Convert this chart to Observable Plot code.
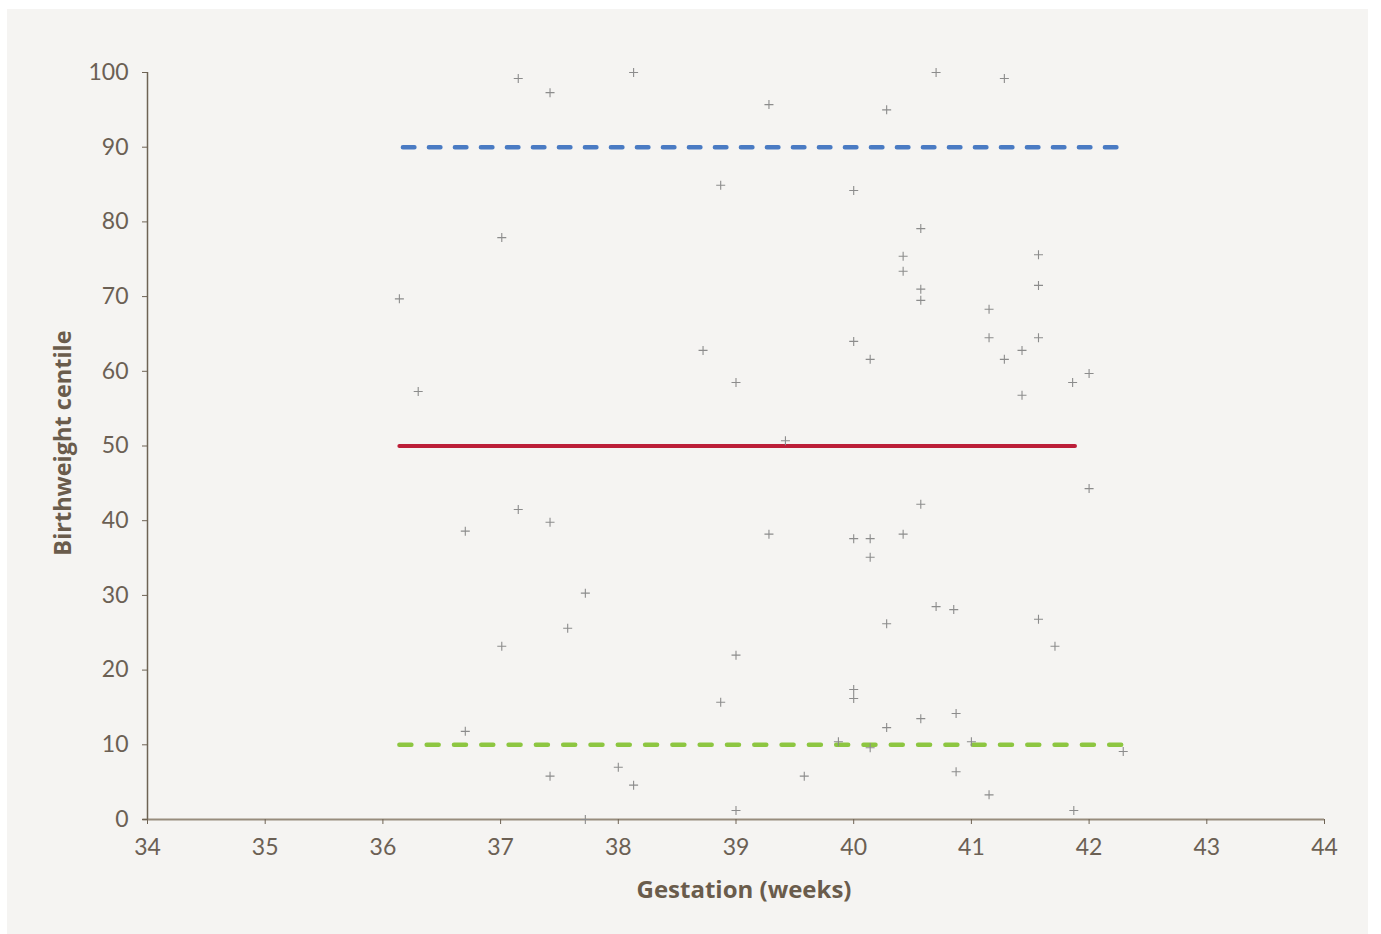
<!DOCTYPE html>
<html>
<head>
<meta charset="utf-8">
<script src="https://cdn.jsdelivr.net/npm/d3@7"></script>
<script src="https://cdn.jsdelivr.net/npm/@observablehq/plot@0.6"></script>
<style>
  html, body { margin: 0; padding: 0; background: #ffffff; }
  #panel { position: absolute; left: 7px; top: 9px; width: 1361px; height: 925px; background: #f5f4f2; }
  #chart { position: absolute; left: 0; top: 0; }
  #chart svg { background: transparent; }
</style>
</head>
<body>
<div id="panel"></div>
<div id="chart"></div>
<script>
// Scatter data: gestation (weeks) and birthweight centile
const gestation = [36.14,36.30,36.70,36.70,37.01,37.01,37.15,37.15,37.42,37.42,37.42,37.57,37.72,37.72,38.00,38.13,38.13,38.72,38.87,38.87,39.00,39.00,39.00,39.28,39.28,39.42,39.58,39.87,40.00,40.00,40.00,40.00,40.00,40.14,40.14,40.14,40.14,40.28,40.28,40.28,40.42,40.42,40.42,40.57,40.57,40.57,40.57,40.57,40.70,40.70,40.85,40.87,40.87,41.00,41.15,41.15,41.15,41.28,41.28,41.43,41.43,41.57,41.57,41.57,41.57,41.71,41.86,41.87,42.00,42.00,42.29];
const centile   = [69.7,57.3,38.6,11.8,77.9,23.2,99.2,41.5,97.3,39.8,5.8,25.6,30.3,0.0,7.0,4.6,100,62.8,84.9,15.7,58.5,22.0,1.2,95.7,38.2,50.7,5.8,10.4,84.2,64.0,37.6,17.4,16.2,61.6,37.6,35.1,9.6,95.0,26.2,12.3,75.4,73.4,38.2,79.1,71.0,69.5,42.2,13.5,100,28.5,28.1,14.2,6.4,10.4,68.3,64.5,3.3,99.2,61.6,62.8,56.8,75.6,71.5,64.5,26.8,23.2,58.5,1.2,59.7,44.3,9.1];

// Reference centile lines (start/end gestation)
const line90X = [36.17, 42.24]; const line90Y = [90, 90];
const line50X = [36.14, 41.88]; const line50Y = [50, 50];
const line10X = [36.14, 42.29]; const line10Y = [10, 10];

const xTicks = [34,35,36,37,38,39,40,41,42,43,44];
const yTicks = [0,10,20,30,40,50,60,70,80,90,100];
const xTitle = "Gestation (weeks)";
const yTitle = "Birthweight centile";

const points = gestation.map((g, i) => ({g, c: centile[i]}));
const mk = (xs, ys) => xs.map((x, i) => ({x, y: ys[i]}));

const plusSymbol = {
  draw(ctx, size) {
    const r = Math.sqrt(size / Math.PI);
    ctx.moveTo(-r, 0); ctx.lineTo(r, 0);
    ctx.moveTo(0, -r); ctx.lineTo(0, r);
  }
};

const textColor = "#6b6054";
const font = "Lato, 'Open Sans', sans-serif";
const titleFont = "'Open Sans', Lato, sans-serif";

const chart = Plot.plot({
  width: 1381,
  height: 934,
  marginLeft: 147,
  marginRight: 57,
  marginTop: 72,
  marginBottom: 115,
  style: { fontFamily: font, background: "transparent", color: textColor },
  x: { domain: [34, 44] },
  y: { domain: [0, 100] },
  marks: [
    Plot.ruleY([0], { stroke: "#978c7d", strokeWidth: 2, x1: 33.96, x2: 44 }),
    Plot.ruleX([34], { stroke: "#6e6354", strokeWidth: 1.5, y1: 0, y2: 100 }),
    Plot.axisX({ ticks: xTicks, tickSize: 5, tickPadding: 14, stroke: "#6e6354", fontSize: 23, label: null, fill: textColor }),
    Plot.axisY({ ticks: yTicks, tickSize: 5, tickPadding: 14, stroke: "#6e6354", fontSize: 23, label: null, fill: textColor }),
    Plot.line(mk(line90X, line90Y), { x: "x", y: "y", stroke: "#4a7bc3", strokeWidth: 4.5, strokeDasharray: "11.5,14.5", strokeLinecap: "round" }),
    Plot.line(mk(line50X, line50Y), { x: "x", y: "y", stroke: "#bc1e38", strokeWidth: 4, strokeLinecap: "round" }),
    Plot.line(mk(line10X, line10Y), { x: "x", y: "y", stroke: "#8dc641", strokeWidth: 4.5, strokeDasharray: "12,15.3", strokeLinecap: "round" }),
    Plot.dot(points, { x: "g", y: "c", symbol: plusSymbol, r: 4.5, fill: "none", stroke: "#8c8c8c", strokeWidth: 1.1 }),
    Plot.text([xTitle], { frameAnchor: "bottom", text: d => d, dx: 8, dy: 71, fontSize: 24, fontWeight: "bold", fontFamily: titleFont, fill: "#6a5c4c", lineAnchor: "middle", textAnchor: "middle" }),
    Plot.text([yTitle], { frameAnchor: "left", text: d => d, dx: -84, dy: -3, rotate: -90, fontSize: 23.5, fontWeight: "bold", fontFamily: titleFont, fill: "#6a5c4c", lineAnchor: "middle", textAnchor: "middle" })
  ]
});
document.getElementById("chart").appendChild(chart);
</script>
</body>
</html>
